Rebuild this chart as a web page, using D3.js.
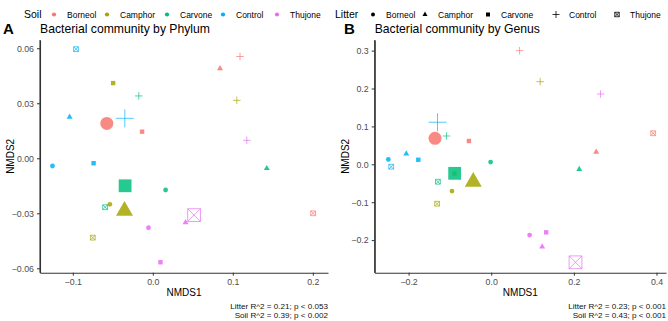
<!DOCTYPE html>
<html>
<head>
<meta charset="utf-8">
<script src="https://cdn.jsdelivr.net/npm/d3@7"></script>
<style>
body { margin: 0; background: #fff; }
text { font-family: "Liberation Sans", Arial, sans-serif; }
</style>
</head>
<body>
<div id="chart"></div>
<script>
var soils = ["Borneol", "Camphor", "Carvone", "Control", "Thujone"];
var litters = ["Borneol", "Camphor", "Carvone", "Control", "Thujone"];
var soilColors = ["#F8766D", "#A3A500", "#00BF7D", "#00B0F6", "#E76BF3"];
var litterShapes = ["circle", "triangle", "square", "plus", "squarex"];

// rows = soil, columns = litter
var phylumX = [
  [-0.0575, 0.084, -0.0134, 0.109, 0.2004],
  [-0.0537, -0.0354, -0.0496, 0.105, -0.075],
  [0.016, 0.1425, -0.0346, -0.0175, -0.0596],
  [-0.1254, -0.104, -0.074, -0.035, -0.096],
  [-0.0054, 0.041, 0.0096, 0.1175, 0.0516]
];
var phylumY = [
  [0.019, 0.049, 0.0145, 0.0555, -0.030],
  [-0.0251, -0.0286, 0.041, 0.0316, -0.0433],
  [-0.0173, -0.0055, -0.015, 0.034, -0.0267],
  [-0.0042, 0.0225, -0.0027, 0.0218, 0.0595],
  [-0.0379, -0.035, -0.0567, 0.0098, -0.031]
];
var genusX = [
  [-0.136, 0.254, -0.054, 0.0687, 0.392],
  [-0.095, -0.0435, -0.089, 0.1185, -0.131],
  [-0.0015, 0.213, -0.0885, -0.108, -0.129],
  [-0.249, -0.2056, -0.1765, -0.13, -0.242],
  [0.0929, 0.1233, 0.133, 0.2646, 0.204]
];
var genusY = [
  [0.0686, 0.0325, 0.0615, 0.30, 0.082],
  [-0.0705, -0.046, -0.024, 0.218, -0.104],
  [0.006, -0.013, -0.0238, 0.0747, -0.046],
  [0.013, 0.028, 0.012, 0.111, -0.0063],
  [-0.1866, -0.2175, -0.1795, 0.1855, -0.2586]
];

var phylumXTicks = [-0.1, 0.0, 0.1, 0.2];
var phylumYTicks = [-0.06, -0.03, 0.0, 0.03, 0.06];
var genusXTicks = [-0.2, 0.0, 0.2, 0.4];
var genusYTicks = [-0.2, -0.1, 0.0, 0.1, 0.2, 0.3];

var W = 668, H = 321;
var svg = d3.select("#chart").append("svg")
    .attr("width", W).attr("height", H);

function shapePath(shape, s) {
  var h = s / 2;
  if (shape == "circle") {
    return "M" + (-h) + ",0A" + h + "," + h + " 0 1,0 " + h + ",0A" + h + "," + h + " 0 1,0 " + (-h) + ",0Z";
  } else if (shape == "triangle") {
    var th = s * Math.sqrt(3) / 2;
    return "M0," + (-th * 2 / 3) + "L" + h + "," + (th / 3) + "L" + (-h) + "," + (th / 3) + "Z";
  } else if (shape == "square") {
    return "M" + (-h) + "," + (-h) + "h" + s + "v" + s + "h" + (-s) + "Z";
  } else if (shape == "plus") {
    return "M" + (-h) + ",0H" + h + "M0," + (-h) + "V" + h;
  } else {
    return "M" + (-h) + "," + (-h) + "h" + s + "v" + s + "h" + (-s) + "Z" +
      "M" + (-h) + "," + (-h) + "L" + h + "," + h + "M" + h + "," + (-h) + "L" + (-h) + "," + h;
  }
}

var smallSize = {circle: 4.8, triangle: 6, square: 4.4, plus: 7.5, squarex: 4.8};
var bigSize = {circle: 13, triangle: 17, square: 12.8, plus: 18, squarex: 12.8};

function drawSymbol(g, shape, x, y, s, color, op) {
  var filled = (shape == "circle" || shape == "triangle" || shape == "square");
  g.append("path")
    .attr("transform", "translate(" + x + "," + y + ")")
    .attr("d", shapePath(shape, s))
    .attr("fill", filled ? color : "none")
    .attr("stroke", filled ? "none" : color)
    .attr("stroke-width", 0.8)
    .attr("opacity", op);
}

function panel(opt) {
  var x = d3.scaleLinear().domain(opt.xDomain).range([opt.left, opt.right]);
  var y = d3.scaleLinear().domain(opt.yDomain).range([opt.bottom, opt.top]);
  var g = svg.append("g");

  var ax = g.append("g")
    .attr("transform", "translate(0," + opt.bottom + ")")
    .call(d3.axisBottom(x).tickValues(opt.xTicks).tickSize(3).tickSizeOuter(0)
      .tickFormat(d3.format(opt.xFmt)));
  var ay = g.append("g")
    .attr("transform", "translate(" + opt.left + ",0)")
    .call(d3.axisLeft(y).tickValues(opt.yTicks).tickSize(3).tickSizeOuter(0)
      .tickFormat(d3.format(opt.yFmt)));
  [ax, ay].forEach(function(a) {
    a.select(".domain").attr("stroke", "#333").attr("stroke-width", 1.1);
    a.selectAll(".tick line").attr("stroke", "#333");
    a.selectAll(".tick text").attr("fill", "#4D4D4D")
      .style("font-size", "8.8px").style("font-family", "Liberation Sans, Arial, sans-serif");
  });
  // extend axes to meet at corner
  g.append("line").attr("x1", opt.left).attr("x2", opt.left)
    .attr("y1", opt.top).attr("y2", opt.bottom).attr("stroke", "#333").attr("stroke-width", 1.1);

  var small = [], big = [];
  for (var i = 0; i < soils.length; i++) {
    for (var j = 0; j < litters.length; j++) {
      var p = {s: i, l: j, x: opt.xs[i][j], y: opt.ys[i][j]};
      if (i == j) big.push(p); else small.push(p);
    }
  }
  small.concat(big).forEach(function(p) {
    var shape = litterShapes[p.l];
    var sz = (p.s == p.l) ? bigSize[shape] : smallSize[shape];
    drawSymbol(g, shape, x(p.x), y(p.y), sz, soilColors[p.s], 0.85);
  });

  g.append("text").attr("x", opt.letterX).attr("y", 34)
    .style("font-size", "15px").style("font-weight", "bold").text(opt.letter);
  g.append("text").attr("x", opt.left).attr("y", 33)
    .style("font-size", "12.2px").text(opt.title);
  g.append("text").attr("x", (opt.left + opt.right) / 2).attr("y", 296)
    .attr("text-anchor", "middle").style("font-size", "10px").text("NMDS1");
  g.append("text")
    .attr("transform", "translate(" + (opt.left - 26) + "," + ((opt.top + opt.bottom) / 2) + ") rotate(-90)")
    .attr("text-anchor", "middle").style("font-size", "10px").text("NMDS2");
  g.append("text").attr("x", opt.right).attr("y", 309)
    .attr("text-anchor", "end").style("font-size", "8.1px").attr("fill", "#111").text(opt.note1);
  g.append("text").attr("x", opt.right).attr("y", 317.5)
    .attr("text-anchor", "end").style("font-size", "8.1px").attr("fill", "#111").text(opt.note2);
}

panel({
  left: 40, right: 328, top: 40, bottom: 272.7,
  xDomain: [-0.141, 0.219], yDomain: [-0.0624, 0.0645],
  xTicks: phylumXTicks, yTicks: phylumYTicks, xFmt: ".1f", yFmt: ".2f",
  xs: phylumX, ys: phylumY,
  letter: "A", letterX: 3, title: "Bacterial community by Phylum",
  note1: "Litter R^2 = 0.21; p < 0.053", note2: "Soil R^2 = 0.39; p < 0.002"
});
panel({
  left: 374.7, right: 666, top: 40, bottom: 272.7,
  xDomain: [-0.282, 0.423], yDomain: [-0.286, 0.328],
  xTicks: genusXTicks, yTicks: genusYTicks, xFmt: ".1f", yFmt: ".1f",
  xs: genusX, ys: genusY,
  letter: "B", letterX: 344, title: "Bacterial community by Genus",
  note1: "Litter R^2 = 0.23; p < 0.001", note2: "Soil R^2 = 0.43; p < 0.001"
});

// legends
var soilLeg = svg.append("g");
soilLeg.append("text").attr("x", 24).attr("y", 18).style("font-size", "10.5px").text("Soil");
var soilItemX = [54, 107, 167, 223, 277];
soils.forEach(function(s, i) {
  drawSymbol(soilLeg, "circle", soilItemX[i], 14.5, 4.2, soilColors[i], 1);
  soilLeg.append("text").attr("x", soilItemX[i] + 13).attr("y", 17.5)
    .style("font-size", "8.5px").text(s);
});
var litLeg = svg.append("g");
litLeg.append("text").attr("x", 335).attr("y", 18).style("font-size", "10.5px").text("Litter");
var litItemX = [373, 425, 488, 556, 617];
var legSize = {circle: 4, triangle: 5, square: 4, plus: 7, squarex: 4.5};
litters.forEach(function(s, i) {
  drawSymbol(litLeg, litterShapes[i], litItemX[i], 14.5, legSize[litterShapes[i]], "#000", 1);
  litLeg.append("text").attr("x", litItemX[i] + 13).attr("y", 17.5)
    .style("font-size", "8.5px").text(s);
});
</script>
</body>
</html>
